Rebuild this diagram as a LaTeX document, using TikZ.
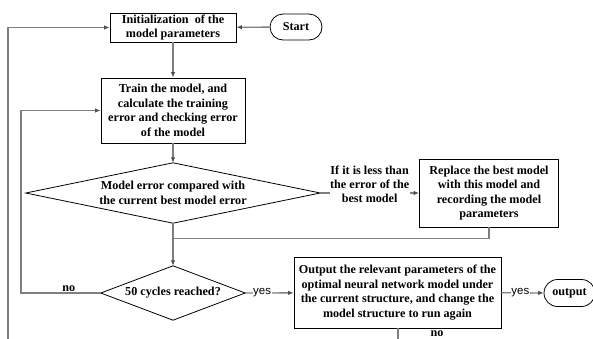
\documentclass[tikz,border=0pt]{standalone}
\usepackage{fontspec}
\setmainfont{Liberation Serif}
\newfontfamily\yesfont{Liberation Sans}
\usetikzlibrary{shapes.misc, arrows.meta, positioning}
\definecolor{linegray}{HTML}{7F7F7F}
\definecolor{tipgray}{HTML}{505050}
\tikzset{
    box/.style={draw, line width=0.8pt, align=center, inner sep=0pt,
        font=\bfseries\fontsize{12.2}{14.5}\selectfont},
    decision/.style={align=center, inner sep=0pt,
        font=\bfseries\fontsize{12.2}{14.5}\selectfont},
    terminal/.style={draw, rounded rectangle, line width=0.8pt, inner sep=0pt,
        font=\bfseries\fontsize{12.2}{14.5}\selectfont},
    conn/.style={draw=linegray, line width=1.3pt},
    flow/.style={conn, -{Latex[length=5.5bp, width=4.5bp, color=tipgray]}},
    yeslabel/.style={fill=white, inner sep=0.6pt, font=\yesfont\fontsize{11.5}{12}\selectfont},
    nolabel/.style={inner sep=1pt, font=\bfseries\fontsize{12.2}{14}\selectfont},
}
\begin{document}
\begin{tikzpicture}[x=1bp, y=-1bp]
            \useasboundingbox (0,0) rectangle (593,338);
            % boxes
            \node[box, minimum width=126bp, minimum height=29bp] (init) at (173,27.5)
                {Initialization~ of the\\model parameters};
            \node[terminal, minimum width=52bp, minimum height=26bp] (start) at (296,27) {Start};
            \node[box, minimum width=144bp, minimum height=65bp] (train) at (173,110.5)
                {Train the model, and\\calculate the training\\error and checking error\\of the model};
            \node[decision, minimum width=294bp, minimum height=60bp] (compare) at (173,193)
                {Model error compared with\\the current best model error};
            \draw[line width=0.8pt] (compare.north) -- (compare.east) -- (compare.south) -- (compare.west) -- cycle;
            \node[box, minimum width=139bp, minimum height=68bp] (replace) at (489,193)
                {Replace the best model\\with this model and\\recording the model\\parameters};
            \node[decision, minimum width=144bp, minimum height=54bp] (cycles) at (173,293)
                {50 cycles reached?};
            \draw[line width=0.8pt] (cycles.north) -- (cycles.east) -- (cycles.south) -- (cycles.west) -- cycle;
            \node[box, minimum width=207bp, minimum height=71bp] (result) at (397.5,292.5)
                {Output the relevant parameters of the\\optimal neural network model under\\the current structure, and change the\\model structure to run again};
            \node[terminal, minimum width=51bp, minimum height=27bp] (output) at (569.5,293) {output};
            % free ends
            \coordinate (merge) at (173,238.5);
            \coordinate (innerturn) at (21,293);
            \coordinate (outerfoot) at (8,345);
            \coordinate (resultfoot) at (398,345);
            % connectors
            \draw[flow] (start) -- (init);
            \draw[flow] (init) -- (train);
            \draw[flow] (train) -- (compare.north);
            \draw[flow] (compare.east) -- node[fill=white, inner sep=0.5pt, align=center, yshift=8.5bp,
                font=\bfseries\fontsize{12.2}{14.2}\selectfont]
                {If it is less than\\the error of the\\best model} (replace);
            \draw[conn] (replace.south) |- (merge);
            \draw[flow] (compare.south) -- (cycles.north);
            \draw[flow] (cycles.west) -- node[nolabel, above, pos=0.4] {no} (innerturn) |- (train.west);
            \draw[flow] (cycles.east) -- node[yeslabel, pos=0.35] {yes} (result);
            \draw[flow] (result) -- node[yeslabel, pos=0.45] {yes} (output);
            \draw[conn] (result.south -| resultfoot) -- (resultfoot);
            \node[nolabel] (resultno) at (437,333.5) {no};
            \draw[flow] (outerfoot) |- (init.west);
\end{tikzpicture}
\end{document}
